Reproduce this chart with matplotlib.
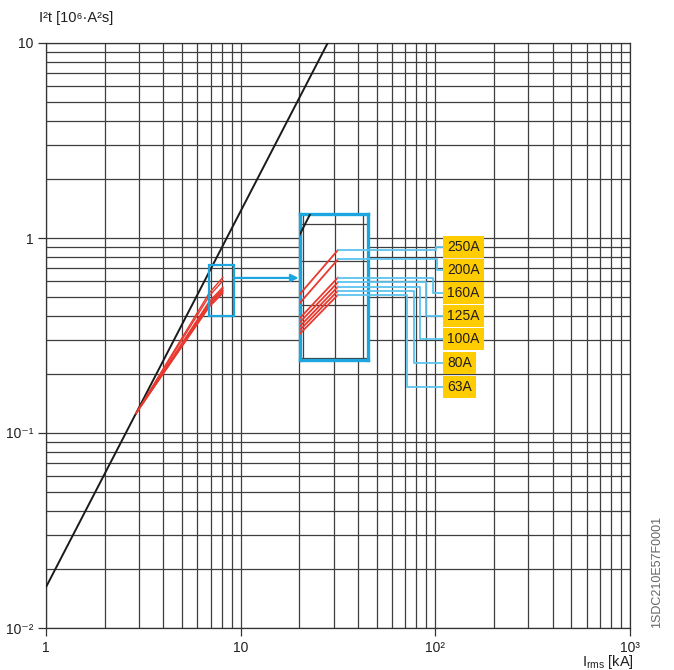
import matplotlib
matplotlib.use('Agg')
import matplotlib.pyplot as plt
from matplotlib.lines import Line2D
from matplotlib.patches import Rectangle
from matplotlib.transforms import IdentityTransform
from matplotlib.ticker import FixedLocator, NullFormatter, LogLocator

plt.rcParams['font.family'] = ['Liberation Sans', 'DejaVu Sans']
plt.rcParams['mathtext.fontset'] = 'custom'
plt.rcParams['mathtext.rm'] = 'Liberation Sans'
plt.rcParams['mathtext.it'] = 'Liberation Sans'

# ---------------- data ----------------
x_ticks = [1, 10, 100, 1000]
x_ticklabels = ['1', '10', '10²', '10³']
y_ticks = [0.01, 0.1, 1, 10]
y_ticklabels = ['10⁻²', '10⁻¹', '1', '10']

prospective_x = [1, 28]
prospective_y = [0.0162, 10]

ratings = ['250A', '200A', '160A', '125A', '100A', '80A', '63A']
curve_x = [2.9, 6.9, 8.1]
curve_start_y = 0.126
curve_knee_y = [0.523, 0.504, 0.473, 0.465, 0.457, 0.450, 0.443]
curve_end_y = [0.628, 0.604, 0.560, 0.549, 0.539, 0.530, 0.521]

zoom_x = (6.9, 9.2)
zoom_y = (0.397, 0.73)
arrow_y = 0.624

# ---------------- layout ----------------
W, H = 674, 670
BLUE = '#1ba6e0'
LEAD = '#5cc3ee'
RED = '#e8392f'
GRID = '#3e3e3e'
TXT = '#231f20'

fig = plt.figure(figsize=(W / 100, H / 100), dpi=100)
ax = fig.add_axes([46 / W, (H - 628) / H, 584 / W, 585 / H])
ax.set_xscale('log')
ax.set_yscale('log')
ax.set_xlim(1, 1000)
ax.set_ylim(0.01, 10)
ax.xaxis.set_major_locator(FixedLocator(x_ticks))
ax.set_xticklabels(x_ticklabels)
ax.yaxis.set_major_locator(FixedLocator(y_ticks))
ax.set_yticklabels(y_ticklabels)
for a in (ax.xaxis, ax.yaxis):
    a.set_minor_locator(LogLocator(base=10, subs=range(2, 10), numticks=20))
    a.set_minor_formatter(NullFormatter())
ax.grid(which='both', color=GRID, lw=0.9)
ax.tick_params(which='major', direction='out', length=6, width=0.9, color='#333333',
               labelsize=10, pad=3, labelcolor=TXT)
ax.tick_params(which='minor', length=0)
for s in ax.spines.values():
    s.set_color('#333333')
    s.set_linewidth(0.9)
ax.set_axisbelow(True)

ax.plot(prospective_x, prospective_y, color='#1a1a1a', lw=1.4, zorder=3)
for yk, ye in zip(curve_knee_y, curve_end_y):
    ax.plot(curve_x, [curve_start_y, yk, ye], color=RED, lw=1.0, zorder=4)

ax.add_patch(Rectangle((zoom_x[0], zoom_y[0]), zoom_x[1] - zoom_x[0], zoom_y[1] - zoom_y[0],
                       fill=False, ec=BLUE, lw=1.6, zorder=5))

# inset
axins = fig.add_axes([300 / W, (H - 360) / H, 68 / W, 146 / H])
axins.set_xscale('log')
axins.set_yscale('log')
axins.set_xlim(*zoom_x)
axins.set_ylim(*zoom_y)
axins.xaxis.set_major_locator(FixedLocator([7, 8, 9]))
axins.yaxis.set_major_locator(FixedLocator([0.4, 0.5, 0.6, 0.7]))
axins.xaxis.set_minor_locator(FixedLocator([]))
axins.yaxis.set_minor_locator(FixedLocator([]))
axins.tick_params(which='both', length=0, labelbottom=False, labelleft=False)
axins.grid(which='major', color=GRID, lw=0.9)
axins.set_axisbelow(True)
axins.plot(prospective_x, prospective_y, color='#1a1a1a', lw=1.4, zorder=3)
for yk, ye in zip(curve_knee_y, curve_end_y):
    axins.plot(curve_x, [curve_start_y, yk, ye], color=RED, lw=1.3, zorder=4)
for s in axins.spines.values():
    s.set_color(BLUE)
    s.set_linewidth(2.4)

# arrow
ax.annotate('', xy=(0, 0.562), xycoords=axins.transAxes,
            xytext=(zoom_x[1], arrow_y), textcoords='data',
            arrowprops=dict(arrowstyle='-|>', color=BLUE, lw=1.6, shrinkA=0, shrinkB=1,
                            mutation_scale=11), zorder=6)

# leader lines and labels
bend_x = [435.7, 436.7, 432.7, 426, 420, 414, 406.7]
label_y = [246.7, 270, 293, 316, 339, 363, 386.7]
label_left = 443
for ye, bx, ly, lab in zip(curve_end_y, bend_x, label_y, ratings):
    sx, sy = axins.transData.transform((curve_x[-1], ye))
    lyd = H - ly
    fig.add_artist(Line2D([sx, bx, bx, label_left], [sy, sy, lyd, lyd],
                          transform=IdentityTransform(), color=LEAD, lw=1.3, zorder=7))
    fig.text((label_left + 4.5) / W, lyd / H, lab, ha='left', va='center', fontsize=10,
             color=TXT, bbox=dict(boxstyle='square,pad=0.3', fc='#ffcc00', ec='none'),
             zorder=8)

fig.text(39 / W, 1 - 18 / H, 'I²t [10⁶·A²s]', ha='left', va='center', fontsize=10.5,
         color=TXT)
fig.text(634 / W, 1 - 662 / H, r'$\mathregular{I_{rms}}$ [kA]', ha='right', va='center',
         fontsize=10.5, color=TXT)
fig.text(657 / W, 1 - 572 / H, '1SDC210E57F0001', rotation=90, ha='center', va='center',
         fontsize=9, color='#666666')

fig.savefig('out.png', dpi=100)
